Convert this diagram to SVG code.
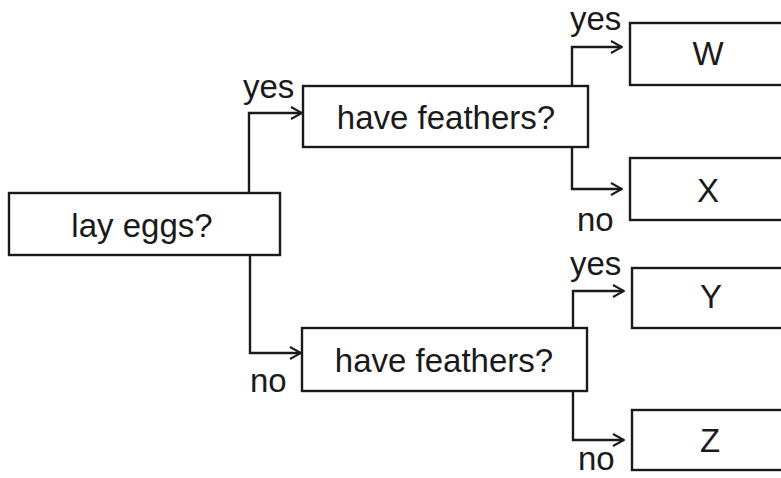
<svg xmlns="http://www.w3.org/2000/svg" width="781" height="478" viewBox="0 0 781 478">
<style>
.box{fill:#fff;stroke:#1a1a1a;stroke-width:2.4}
.t{font-family:"Liberation Sans",Arial,sans-serif;font-size:33px;fill:#1a1a1a}
.m{text-anchor:middle}
.c{fill:none;stroke:#1a1a1a;stroke-width:2.4;marker-end:url(#arr)}
</style>
<defs>
<marker id="arr" viewBox="0 0 13 14" refX="12" refY="7" markerWidth="13" markerHeight="14" markerUnits="userSpaceOnUse" orient="auto">
<path d="M1,1 L12,7 L1,13" fill="none" stroke="#1a1a1a" stroke-width="2"/>
</marker>
</defs>
<rect width="781" height="478" fill="#fff"/>
<g id="connectors">
<path class="c" d="M249,193 V113 H302"/>
<path class="c" d="M250,255 V353 H301"/>
<path class="c" d="M572,86 V47 H622"/>
<path class="c" d="M572,147 V189 H622"/>
<path class="c" d="M573,328 V291 H624"/>
<path class="c" d="M573,391 V440 H624"/>
</g>
<g id="labels">
<text class="t" x="243" y="98">yes</text>
<text class="t" x="250" y="392">no</text>
<text class="t" x="570" y="30">yes</text>
<text class="t" x="577" y="231">no</text>
<text class="t" x="570" y="275">yes</text>
<text class="t" x="578" y="470">no</text>
</g>
<g id="lay-eggs">
<rect class="box" x="9" y="193" width="271" height="62"/>
<text class="t m" x="142" y="237">lay eggs?</text>
</g>
<g id="feathers-yes">
<rect class="box" x="303" y="86" width="285" height="61"/>
<text class="t m" x="446" y="129" font-size="35">have feathers?</text>
</g>
<g id="feathers-no">
<rect class="box" x="302" y="328" width="285" height="63"/>
<text class="t m" x="444" y="372" font-size="35">have feathers?</text>
</g>
<g id="W">
<rect class="box" x="630" y="23" width="170" height="62"/>
<text class="t m" x="708" y="65">W</text>
</g>
<g id="X">
<rect class="box" x="630" y="158" width="170" height="62"/>
<text class="t m" x="708" y="202">X</text>
</g>
<g id="Y">
<rect class="box" x="632" y="268" width="170" height="60"/>
<text class="t m" x="711" y="308">Y</text>
</g>
<g id="Z">
<rect class="box" x="632" y="410" width="170" height="60"/>
<text class="t m" x="710" y="452">Z</text>
</g>
</svg>
